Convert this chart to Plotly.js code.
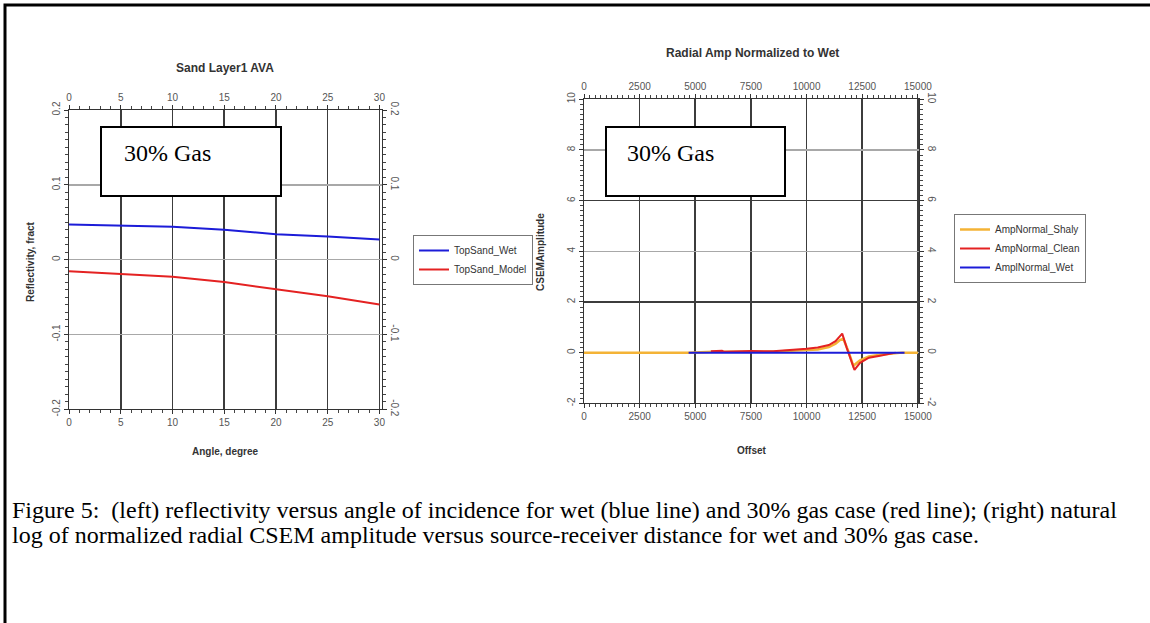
<!DOCTYPE html>
<html>
<head>
<meta charset="utf-8">
<script src="https://cdn.plot.ly/plotly-3.0.1.min.js"></script>
<style>html,body{margin:0;padding:0;background:#fff;}#chart{width:1150px;height:623px;}</style>
</head>
<body>
<div id="chart"></div>
<script>
// ---- Left chart: Sand Layer1 AVA ----
const angle = [0, 5, 10, 15, 20, 25, 30];
const topSandWet = [0.047, 0.046, 0.044, 0.040, 0.034, 0.031, 0.027];
const topSandModel = [-0.0155, -0.019, -0.0227, -0.030, -0.039, -0.049, -0.060];
const angleTicks = [0, 5, 10, 15, 20, 25, 30];
const reflTicks = [-0.2, -0.1, 0, 0.1, 0.2];
const reflTickText = ['-0.2', '-0.1', '0', '0.1', '0.2'];

// ---- Right chart: Radial Amp Normalized to Wet ----
const offsetShaly = [0, 2500, 4700, 5800, 6200, 7500, 8500, 9500, 10000, 10500, 11000, 11300, 11500, 11650, 11900, 12100, 12400, 12800, 13300, 13800, 14300, 15000];
const ampShaly = [0, 0, 0, 0.03, 0.03, 0.02, 0.03, 0.08, 0.1, 0.12, 0.22, 0.35, 0.5, 0.55, 0, -0.52, -0.3, -0.15, -0.08, -0.03, 0, 0];
const offsetClean = [5700, 6200, 6300, 7500, 8500, 9500, 10000, 10500, 11000, 11300, 11600, 11800, 12000, 12150, 12400, 12800, 13300, 13800, 14000];
const ampClean = [0.05, 0.07, 0.03, 0.06, 0.05, 0.1, 0.15, 0.2, 0.3, 0.45, 0.75, 0.2, -0.35, -0.68, -0.4, -0.2, -0.12, -0.05, 0];
const offsetWet = [4700, 7500, 10000, 12500, 14400];
const ampWet = [0, 0, 0, 0, 0];
const offsetTicks = [0, 2500, 5000, 7500, 10000, 12500, 15000];
const offsetTickText = ['0', '2500', '5000', '7500', '10000', '12500', '15000'];
const csemTicks = [-2, 0, 2, 4, 6, 8, 10];
const csemTickText = ['-2', '0', '2', '4', '6', '8', '10'];

const W = 1150, H = 623;
const px = v => v / W;
const py = v => (H - v) / H;

const sans = 'Arial, "Liberation Sans", sans-serif';
const serif = '"Liberation Serif", "Times New Roman", serif';
const tickFont = {family: sans, size: 10, color: '#555'};
const blue = '#1c1cd8', red = '#e42222', yellow = '#f4b336';
const darkGrid = '#3c3c3c', lightGrid = '#a8a8a8';

const L = {x: [px(69), px(381.5)], y: [py(409.3), py(110)]};
const R = {x: [px(584), px(919)], y: [py(403.3), py(99.3)]};

function xax(domain, anchor, side, range, ticks, ttext, minorDt, grid, gridcolor, overlay) {
  const a = {domain: domain, anchor: anchor, side: side, range: range, tickmode: 'array', tickvals: ticks, ticktext: ttext,
    showline: true, linecolor: '#333', linewidth: 1, ticks: 'outside', ticklen: 4, tickcolor: '#333',
    tickfont: tickFont, showgrid: grid, gridcolor: gridcolor, gridwidth: 1.6, zeroline: false, fixedrange: true,
    minor: {dtick: minorDt, ticks: 'outside', ticklen: 3, tickcolor: '#444', showgrid: false}};
  if (overlay) a.overlaying = overlay;
  return a;
}
function yax(domain, anchor, side, range, ticks, ttext, minorDt, grid, gridcolor, overlay, ang) {
  const a = {domain: domain, anchor: anchor, side: side, range: range, tickmode: 'array', tickvals: ticks, ticktext: ttext,
    showline: true, linecolor: '#333', linewidth: 1, ticks: 'outside', ticklen: 4, tickcolor: '#333', tickangle: ang,
    tickfont: tickFont, showgrid: grid, gridcolor: gridcolor, gridwidth: 1.6, zeroline: false, fixedrange: true,
    minor: {dtick: minorDt, ticks: 'outside', ticklen: 3, tickcolor: '#444', showgrid: false}};
  if (overlay) a.overlaying = overlay;
  return a;
}

const traces = [
  {x: angle, y: topSandWet, name: 'TopSand_Wet', mode: 'lines', line: {color: blue, width: 2}, xaxis: 'x', yaxis: 'y', legend: 'legend'},
  {x: angle, y: topSandModel, name: 'TopSand_Model', mode: 'lines', line: {color: red, width: 2}, xaxis: 'x', yaxis: 'y', legend: 'legend'},
  {x: [], y: [], xaxis: 'x2', yaxis: 'y2', showlegend: false, hoverinfo: 'skip'},
  {x: offsetShaly, y: ampShaly, name: 'AmpNormal_Shaly', mode: 'lines', line: {color: yellow, width: 2.5}, xaxis: 'x3', yaxis: 'y3', legend: 'legend2'},
  {x: offsetClean, y: ampClean, name: 'AmpNormal_Clean', mode: 'lines', line: {color: red, width: 2}, xaxis: 'x3', yaxis: 'y3', legend: 'legend2'},
  {x: offsetWet, y: ampWet, name: 'AmplNormal_Wet', mode: 'lines', line: {color: blue, width: 2}, xaxis: 'x3', yaxis: 'y3', legend: 'legend2'},
  {x: [], y: [], xaxis: 'x4', yaxis: 'y4', showlegend: false, hoverinfo: 'skip'},
  {x: [], y: [], xaxis: 'x3', yaxis: 'y5', showlegend: false, hoverinfo: 'skip'}
];

const legendFont = {family: sans, size: 10, color: '#333'};

const layout = {
  width: W, height: H, margin: {l: 0, r: 0, t: 0, b: 0}, paper_bgcolor: '#fff', plot_bgcolor: 'rgba(0,0,0,0)',
  showlegend: true, hovermode: false,
  xaxis: xax(L.x, 'y', 'bottom', [0, 30.2], angleTicks, angleTicks.map(String), 1, true, darkGrid),
  xaxis2: xax(L.x, 'y2', 'top', [0, 30.2], angleTicks, angleTicks.map(String), 1, false, darkGrid, 'x'),
  yaxis: yax(L.y, 'x', 'left', [-0.2, 0.2], reflTicks, reflTickText, 0.01, true, lightGrid, null, -90),
  yaxis2: yax(L.y, 'x2', 'right', [-0.2, 0.2], reflTicks, reflTickText, 0.01, false, lightGrid, 'y', 90),
  xaxis3: xax(R.x, 'y3', 'bottom', [0, 15050], offsetTicks, offsetTickText, 250, true, darkGrid),
  xaxis4: xax(R.x, 'y4', 'top', [0, 15050], offsetTicks, offsetTickText, 250, false, darkGrid, 'x3'),
  yaxis3: yax(R.y, 'x3', 'left', [-2, 10], csemTicks, csemTickText, 0.2, true, lightGrid, null, -90),
  yaxis4: yax(R.y, 'x4', 'right', [-2, 10], csemTicks, csemTickText, 0.2, false, lightGrid, 'y3', 90),
  yaxis5: {domain: R.y, anchor: 'x3', overlaying: 'y3', range: [-2, 10], tickmode: 'array', tickvals: [2, 6],
    showticklabels: false, ticks: '', showline: false, showgrid: true, gridcolor: darkGrid, gridwidth: 1.6, zeroline: false, fixedrange: true},
  legend: {x: px(413), y: py(235), xanchor: 'left', yanchor: 'top', bgcolor: '#fff', bordercolor: '#777', borderwidth: 1,
    font: legendFont, itemwidth: 30, tracegroupgap: 0},
  legend2: {x: px(954), y: py(214), xanchor: 'left', yanchor: 'top', bgcolor: '#fff', bordercolor: '#777', borderwidth: 1,
    font: legendFont, itemwidth: 30, tracegroupgap: 0},
  shapes: [
    {type: 'rect', xref: 'paper', yref: 'paper', x0: px(5), x1: px(1165), y0: py(640), y1: py(5), line: {color: '#000', width: 3}, layer: 'below'},
    {type: 'rect', xref: 'paper', yref: 'paper', x0: px(101), x1: px(281), y0: py(196), y1: py(127), line: {color: '#000', width: 2}, fillcolor: '#fff', layer: 'above'},
    {type: 'rect', xref: 'paper', yref: 'paper', x0: px(606), x1: px(785), y0: py(196), y1: py(127), line: {color: '#000', width: 2}, fillcolor: '#fff', layer: 'above'}
  ],
  annotations: [
    {text: '<b>Sand Layer1 AVA</b>', xref: 'paper', yref: 'paper', x: px(225), y: py(68), showarrow: false, xanchor: 'center', yanchor: 'middle',
      font: {family: sans, size: 12, color: '#333'}},
    {text: '<b>Radial Amp Normalized to Wet</b>', xref: 'paper', yref: 'paper', x: px(752), y: py(53), showarrow: false, xanchor: 'center', yanchor: 'middle',
      font: {family: sans, size: 12, color: '#333'}},
    {text: '<b>Reflectivity, fract</b>', xref: 'paper', yref: 'paper', x: px(30), y: py(262), showarrow: false, textangle: -90, xanchor: 'center', yanchor: 'middle',
      font: {family: sans, size: 10, color: '#333'}},
    {text: '<b>Angle, degree</b>', xref: 'paper', yref: 'paper', x: px(225), y: py(451), showarrow: false, xanchor: 'center', yanchor: 'middle',
      font: {family: sans, size: 10, color: '#333'}},
    {text: '<b>CSEMAmplitude</b>', xref: 'paper', yref: 'paper', x: px(540), y: py(252), showarrow: false, textangle: -90, xanchor: 'center', yanchor: 'middle',
      font: {family: sans, size: 10, color: '#333'}},
    {text: '<b>Offset</b>', xref: 'paper', yref: 'paper', x: px(752), y: py(450), showarrow: false, xanchor: 'center', yanchor: 'middle',
      font: {family: sans, size: 10, color: '#333'}},
    {text: '30% Gas', xref: 'paper', yref: 'paper', x: px(122), y: py(153), showarrow: false, xanchor: 'left', yanchor: 'middle',
      font: {family: serif, size: 24, color: '#000'}},
    {text: '30% Gas', xref: 'paper', yref: 'paper', x: px(625), y: py(153), showarrow: false, xanchor: 'left', yanchor: 'middle',
      font: {family: serif, size: 24, color: '#000'}},
    {text: 'Figure 5:  (left) reflectivity versus angle of incidence for wet (blue line) and 30% gas case (red line); (right) natural', xref: 'paper', yref: 'paper',
      x: px(10), y: py(510), showarrow: false, xanchor: 'left', yanchor: 'middle',
      font: {family: serif, size: 24, color: '#000'}},
    {text: 'log of normalized radial CSEM amplitude versus source-receiver distance for wet and 30% gas case.', xref: 'paper', yref: 'paper',
      x: px(10), y: py(535), showarrow: false, xanchor: 'left', yanchor: 'middle',
      font: {family: serif, size: 24, color: '#000'}}
  ]
};

Plotly.newPlot('chart', traces, layout, {displayModeBar: false, staticPlot: true});
</script>
</body>
</html>
